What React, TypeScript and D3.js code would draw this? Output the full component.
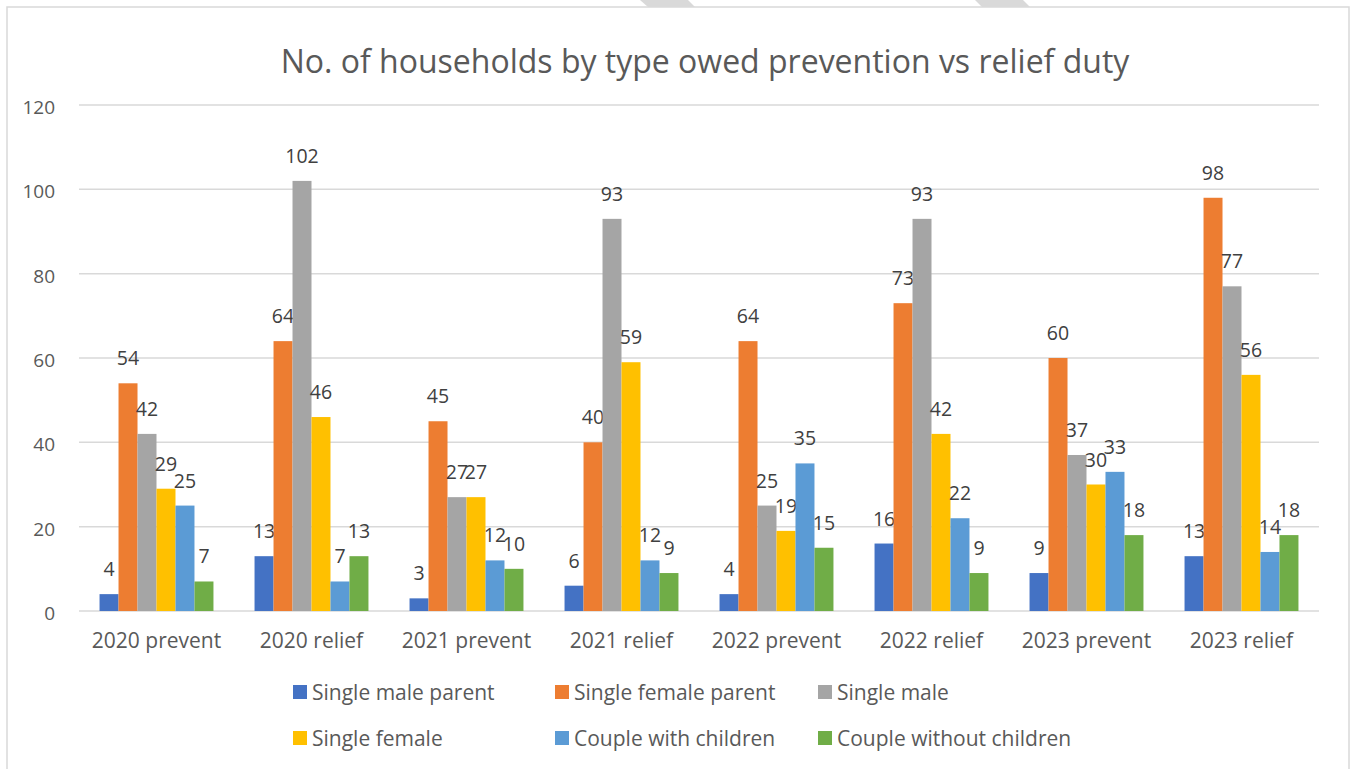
import React from "react";
import * as d3 from "d3";

const categories = [
  "2020 prevent",
  "2020 relief",
  "2021 prevent",
  "2021 relief",
  "2022 prevent",
  "2022 relief",
  "2023 prevent",
  "2023 relief",
];
const seriesNames = [
  "Single male parent",
  "Single female parent",
  "Single male",
  "Single female",
  "Couple with children",
  "Couple without children",
];
const singleMaleParent = [4, 13, 3, 6, 4, 16, 9, 13];
const singleFemaleParent = [54, 64, 45, 40, 64, 73, 60, 98];
const singleMale = [42, 102, 27, 93, 25, 93, 37, 77];
const singleFemale = [29, 46, 27, 59, 19, 42, 30, 56];
const coupleWithChildren = [25, 7, 12, 12, 35, 22, 33, 14];
const coupleWithoutChildren = [7, 13, 10, 9, 15, 9, 18, 18];
const yTicks = [0, 20, 40, 60, 80, 100, 120];
const colors = ["#4472C4", "#ED7D31", "#A5A5A5", "#FFC000", "#5B9BD5", "#70AD47"];
const title = "No. of households by type owed prevention vs relief duty";

const seriesValues = [
  singleMaleParent,
  singleFemaleParent,
  singleMale,
  singleFemale,
  coupleWithChildren,
  coupleWithoutChildren,
];

export default function App() {
  const W = 1354;
  const H = 769;
  const left = 79;
  const right = 1319;
  const top = 105;
  const bottom = 611;
  const font = "'Open Sans', sans-serif";

  const x0 = d3.scaleBand<string>().domain(categories).range([left, right]).paddingInner(0).paddingOuter(0);
  const groupW = x0.bandwidth() * 0.735;
  const x1 = d3
    .scaleBand<string>()
    .domain(seriesNames)
    .range([0, groupW])
    .padding(0);
  const y = d3.scaleLinear().domain([0, 120]).range([bottom, top]);

  const legendCols = [293, 555, 818];
  const legendRows = [692, 738];

  return (
    <svg
      width={W}
      height={H}
      style={{ position: "absolute", left: 0, top: 0, background: "#fff" }}
      fontFamily={font}
    >
      <rect x={0} y={0} width={W} height={H} fill="#fff" />
      {/* decorative stripes at top */}
      <polygon points="640,0 688,0 695,7 648,7" fill="#d9d9d9" />
      <polygon points="975,0 1023,0 1030,7 982,7" fill="#d9d9d9" />
      {/* chart border */}
      <rect x={7} y={7} width={1342} height={H + 10} fill="none" stroke="#d9d9d9" strokeWidth={1.5} />
      {/* title */}
      <text x={705} y={60} textAnchor="middle" dominantBaseline="central" fontSize={32} fill="#595959">
        {title}
      </text>
      {/* gridlines */}
      {yTicks.map((t) => (
        <g key={t}>
          <line x1={left} x2={right} y1={y(t)} y2={y(t)} stroke="#d9d9d9" strokeWidth={1.5} />
          <text
            x={55}
            y={y(t) + 2}
            textAnchor="end"
            dominantBaseline="central"
            fontSize={19}
            fill="#595959"
          >
            {t}
          </text>
        </g>
      ))}
      {/* bars */}
      {categories.map((c, ci) => {
        const gx = (x0(c) as number) + (x0.bandwidth() - groupW) / 2;
        return (
          <g key={c}>
            {seriesNames.map((s, si) => {
              const v = seriesValues[si][ci];
              const bx = gx + (x1(s) as number);
              return (
                <g key={s}>
                  <rect x={bx} y={y(v)} width={x1.bandwidth()} height={y(0) - y(v)} fill={colors[si]} />
                  <text
                    x={bx + x1.bandwidth() / 2}
                    y={y(v) - 18}
                    textAnchor="middle"
                    fontSize={19.5}
                    fill="#404040"
                  >
                    {v}
                  </text>
                </g>
              );
            })}
            <text
              x={(x0(c) as number) + x0.bandwidth() / 2}
              y={640}
              textAnchor="middle"
              dominantBaseline="central"
              fontSize={21}
              fill="#595959"
            >
              {c}
            </text>
          </g>
        );
      })}
      {/* legend */}
      {seriesNames.map((s, i) => {
        const lx = legendCols[i % 3];
        const ly = legendRows[Math.floor(i / 3)];
        return (
          <g key={s}>
            <rect x={lx} y={ly - 7} width={14} height={14} fill={colors[i]} />
            <text x={lx + 19} y={ly} dominantBaseline="central" fontSize={21} fill="#595959">
              {s}
            </text>
          </g>
        );
      })}
    </svg>
  );
}
